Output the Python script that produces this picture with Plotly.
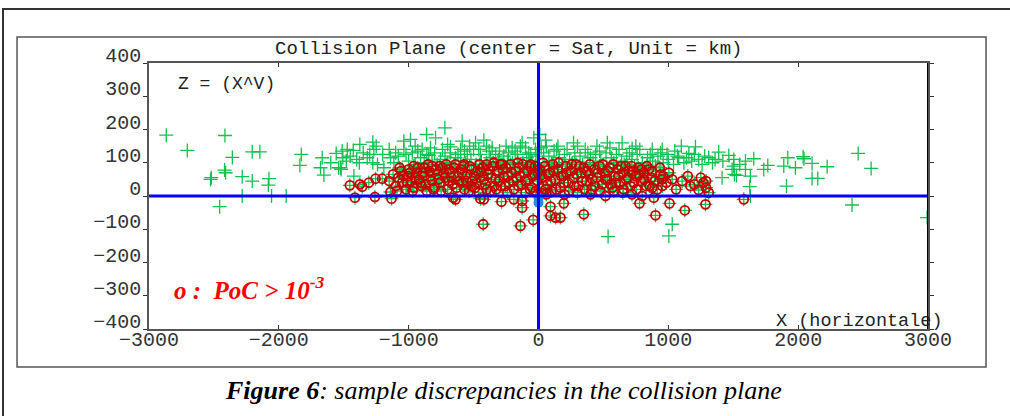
import plotly.graph_objects as go

# ---- data (km) ----
green_x = [-2867,-2705,-2415,-2358,-2418,-2410,-2526,-2520,-2456,-2282,-2205,-2282,-2205,-2146,-2076,-2081,-2056,-1943,
           -1827,-1838,-1666,-1679,-1653,-1558,-1512,-1540,-1520,-1507,
           -721,-862,-793,-1037,-986,-1276,-1376,-1473,-1427,-1268,-1037,-896,-832,-678,-588,-485,-421,-357,-203,-126,-36,
           -1525,-1319,-1276,-1422,-1191,-1140,-1114,-1050,-972,-909,-845,-755,-639,-549,-447,-370,-267,-164,-75,-23,
           -1000,-950,-880,-820,-780,-720,-700,-650,-600,-560,-520,-480,-440,-400,-350,-310,-280,-240,-200,-160,-120,-90,-50,-20,
           -1100,-1200,-1240,-1350,-1380,-950,-600,-500,-300,-250,-100,-700,-400,
           644,1209,876,54,10,721,953,1158,1388,1466,1311,1234,1491,1414,1030,1004,536,
           40,80,120,160,200,240,280,320,360,400,440,480,520,560,600,640,680,720,760,800,840,880,920,960,1000,1040,1080,1120,1180,1260,1340,
           100,180,260,340,420,500,580,660,740,820,900,300,150,450,550,750,1050,1100,
           1504,1594,1658,1504,1509,1525,1594,1632,1627,1632,1735,1766,1920,1889,1979,2038,2045,2107,2223,2107,2151,1910,2462,2562,2415,2993,
           -1450,-1400,-1300,-1250,-1150,-1080,-1020,-930,-860,-800,-740,-680,-620,-570,-530,-460,-380,-330,-230,-180,-140,-60,
           20,60,140,220,270,380,470,530,620,700,780,860,940,990,1070,1140,1200,1280,1360,1420,-1480,-1600,1550]
green_y = [183,137,182,116,78,70,50,55,-32,58,45,0,133,133,52,33,0,0,
           125,92,115,85,63,128,135,85,80,115,
           205,185,175,165,170,162,155,140,137,140,140,140,145,148,165,160,168,145,145,160,175,
           85,115,100,60,85,115,100,80,130,115,122,110,115,125,125,115,120,125,130,140,
           105,95,100,105,95,120,100,95,105,100,110,95,105,100,100,110,95,105,100,110,100,115,105,120,
           130,125,95,130,100,150,140,140,135,150,145,155,150,
           160,148,140,168,185,143,140,128,132,122,115,110,80,55,-85,-120,-122,
           130,120,135,115,125,110,130,120,140,115,125,105,130,115,125,105,120,110,125,100,115,105,120,100,110,95,115,100,105,95,100,
           100,95,100,95,100,95,100,95,90,85,90,150,150,150,145,150,135,150,
           110,105,112,90,65,62,80,60,28,0,80,92,115,90,85,118,112,98,88,53,53,30,128,83,-27,-65,
           120,110,125,150,140,120,125,135,125,130,140,130,125,135,150,140,135,125,130,135,150,125,
           145,150,140,140,160,130,135,160,140,130,140,125,130,125,120,115,125,120,110,105,105,100,95]

red_x = [-1453,-1376,-1358,-1307,-1255,-1204,-1414,-1260,-1132,-1140,-1100,-1080,-1050,-1020,-1000,-980,-960,-940,-920,-900,
         -880,-860,-840,-820,-800,-780,-760,-740,-720,-700,-680,-660,-657,-639,-620,-600,-590,-570,-550,-530,-510,-490,-470,-450,
         -447,-421,-430,-410,-390,-370,-350,-330,-310,-290,-285,-270,-250,-230,-210,-190,-190,-170,-150,-130,-126,-126,-110,-90,
         -70,-50,-30,-10,-426,-139,-41,-1000,-880,-760,-640,-520,-400,-280,-160,-60,-1060,-960,-820,-690,-580,-460,-340,-240,-100,-20,
         10,30,50,70,90,110,130,150,170,190,210,230,250,270,290,310,330,350,370,390,410,430,450,470,490,510,530,550,570,590,
         610,630,650,670,690,710,730,750,770,790,810,830,850,870,92,92,131,169,195,349,778,888,901,1009,1127,1286,1311,1291,
         1170,1234,1106,1030,953,940,1004,876,798,516,400,300,200,100,650,720,580,1581,1270,950,20,60,
         -1150,-1120,-1090,-1070,-1040,-1010,-990,-970,-950,-930,-910,-890,-870,-850,-830,-810,-790,-770,-750,-730,-710,-690,
         -670,-650,-630,-610,-590,-575,-555,-535,-515,-495,-475,-455,-440,-420,-400,-385,-365,-345,-325,-305,-295,-275,-255,
         -235,-215,-195,-175,-155,-140,-120,-100,-85,-65,-45,-25,-5,
         15,35,55,75,95,115,135,155,175,195,215,235,255,275,295,315,335,355,375,395,415,435,455,475,495,515,535,555,575,595,
         615,635,655,675,695,715,735,755,775,795,815,835,855,875,895,915,935,960,985,1060,1150,1200,1250,1290]
red_y = [32,35,28,40,52,52,-5,-3,-8,12,30,55,40,20,60,45,25,70,50,30,
         60,15,75,45,25,65,40,85,55,20,70,35,-5,-10,60,80,40,20,65,90,45,25,75,55,
         -8,-10,85,35,65,15,90,50,75,30,-17,60,85,40,70,20,-10,55,85,35,-15,-35,70,50,
         90,25,65,45,-85,-90,-72,80,85,90,95,30,95,95,100,95,75,90,90,45,90,10,30,10,10,15,
         80,55,90,35,70,95,50,80,25,60,90,40,75,55,95,30,70,85,45,65,20,80,55,90,35,70,50,85,25,60,
         80,40,70,90,55,30,75,60,85,45,70,30,80,55,-32,-60,-65,-65,-22,-55,-22,-5,-58,-22,-43,-25,10,45,
         30,18,45,50,30,65,70,25,0,0,5,10,5,15,10,5,15,-10,40,50,10,5,
         45,65,15,85,60,40,70,15,55,85,40,70,35,95,60,20,80,50,15,70,95,80,
         55,85,25,45,70,95,45,15,80,60,40,95,70,50,20,80,55,100,20,45,95,80,30,
         60,95,45,75,30,60,95,45,75,20,60,90,70,
         60,100,20,65,45,75,20,100,60,40,70,15,95,30,65,90,45,20,75,95,50,30,70,15,95,50,75,35,95,40,
         60,90,20,50,75,90,40,20,65,80,50,90,30,75,45,20,85,60,40,20,60,35,55,25]

sat_x = [0, 0]
sat_y = [-5, -20]

x_ticks = [-3000, -2000, -1000, 0, 1000, 2000, 3000]
y_ticks = [-400, -300, -200, -100, 0, 100, 200, 300, 400]

fig = go.Figure()
fig.add_trace(go.Scatter(x=green_x + red_x, y=green_y + red_y, mode="markers",
                         marker=dict(symbol="cross-thin", size=10, line=dict(color="#10c050", width=1.3)),
                         hoverinfo="skip"))
fig.add_trace(go.Scatter(x=red_x, y=red_y, mode="markers",
                         marker=dict(symbol="circle-open", size=9, color="#c80000", line=dict(width=1.8)),
                         hoverinfo="skip"))
fig.add_trace(go.Scatter(x=sat_x, y=sat_y, mode="markers",
                         marker=dict(symbol="circle", size=10, color="#2a8ae6"), hoverinfo="skip"))

mono = "Liberation Mono"
fig.update_xaxes(range=[-3000, 3000], tickvals=x_ticks, showgrid=False, zeroline=False,
                 showline=True, linecolor="#555", linewidth=1.5, mirror="ticks",
                 ticks="inside", ticklen=4, tickcolor="#333", ticklabelstandoff=-9,
                 tickfont=dict(family=mono, size=20, color="#333"))
fig.update_yaxes(range=[-400, 400], tickvals=y_ticks, showgrid=False, zeroline=False,
                 showline=True, linecolor="#555", linewidth=1.5, mirror="ticks",
                 ticks="outside", ticklen=4, tickcolor="#333", ticklabelshift=-8, ticklabelstandoff=-2,
                 tickfont=dict(family=mono, size=20, color="#333"))

shapes = [
    dict(type="line", xref="x", yref="y", x0=-3000, x1=3000, y0=0, y1=0, line=dict(color="#0000ff", width=3), layer="above"),
    dict(type="line", xref="x", yref="y", x0=0, x1=0, y0=-400, y1=400, line=dict(color="#0000ff", width=3), layer="above"),
    dict(type="line", xref="x", yref="y", x0=3000, x1=3000, y0=-400, y1=400, line=dict(color="#000", width=2), layer="above"),
    dict(type="rect", xref="paper", yref="paper", x0=-0.1694, x1=1.0745, y0=-0.1429, y1=1.0977,
         line=dict(color="#555", width=1.5)),
    dict(type="rect", xref="paper", yref="paper", x0=-0.1874, x1=1.12, y0=-0.36, y1=1.203,
         line=dict(color="#333", width=2)),
]

annotations = [
    dict(text="two types of analytical and numerical comparisons of the probability calculation have been performed.",
         xref="paper", yref="paper", x=0.47, y=1.222, yshift=2, xanchor="center", yanchor="bottom", showarrow=False,
         font=dict(family="Liberation Serif", size=22, color="#000")),
    dict(text="Collision Plane (center = Sat, Unit = km)", xref="paper", yref="paper", x=0.461, y=1.0,
         xanchor="center", yanchor="bottom", yshift=1, showarrow=False, font=dict(family=mono, size=19, color="#222")),
    dict(text="Z = (X^V)", xref="paper", yref="paper", x=0.035, y=0.92, xanchor="left", yanchor="middle",
         showarrow=False, font=dict(family=mono, size=18, color="#222")),
    dict(text="X (horizontale)", xref="paper", yref="paper", x=1.022, y=0.0, xanchor="right", yanchor="bottom",
         yshift=-5, showarrow=False, font=dict(family=mono, size=18.5, color="#222")),
    dict(text="<b><i>o :  PoC &gt; 10<sup>-3</sup></i></b>", xref="paper", yref="paper", x=0.03, y=0.155,
         xanchor="left", yanchor="middle", showarrow=False,
         font=dict(family="Liberation Serif", size=25, color="#ff0000")),
    dict(text="<b><i>Figure 6</i></b><i>: sample discrepancies in the collision plane</i>", xref="paper", yref="paper",
         x=0.455, y=-0.23, xanchor="center", yanchor="middle", showarrow=False,
         font=dict(family="Liberation Serif", size=26, color="#000")),
]

fig.update_layout(width=1010, height=416, margin=dict(l=149, r=82, t=63, b=87),
                  paper_bgcolor="white", plot_bgcolor="white", showlegend=False,
                  shapes=shapes, annotations=annotations)

fig.write_html("out.html", config={"displayModeBar": False},
               post_script="document.body.style.margin='0px';document.body.style.overflow='hidden';")
